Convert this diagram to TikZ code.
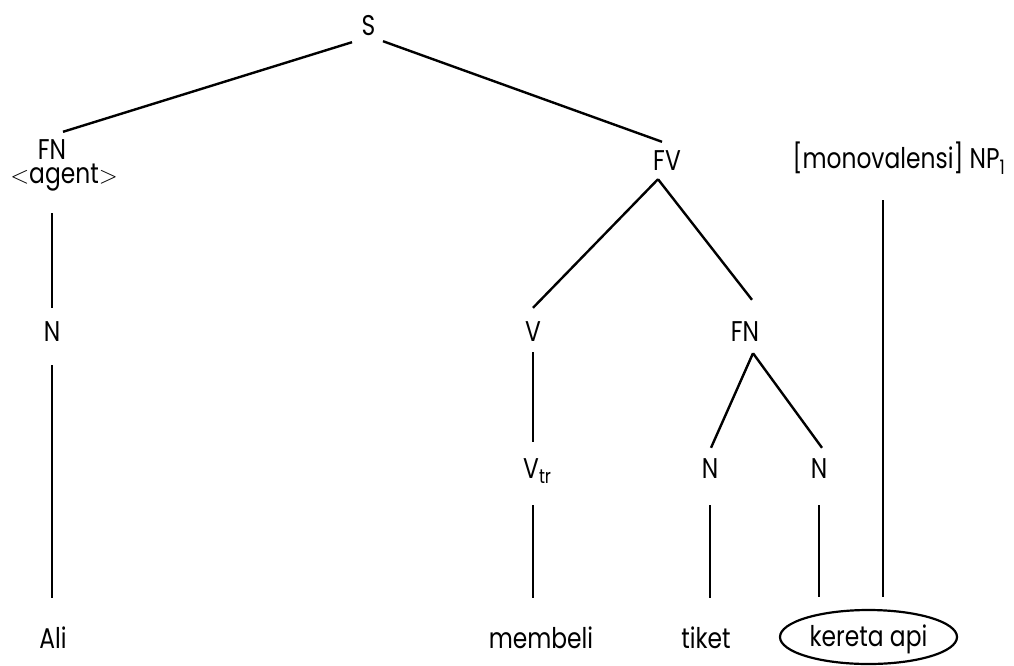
\documentclass[tikz,border=0pt]{standalone}
\usepackage{fontspec}
\setmainfont[FakeStretch=0.82]{Poppins}
\usepackage{tikz}
\usetikzlibrary{shapes.geometric}

\begin{document}
\begin{tikzpicture}[x=1pt, y=-1pt,
    cat/.style={font=\fontsize{28.5}{31}\selectfont, inner sep=0pt, text height=19pt, text depth=0pt},
    branch/.style={line width=2.4pt}]

    \useasboundingbox (0,0) rectangle (1014,665);

    % Root and first level
    \node (S) [cat] at (368.5,25.5) {S};
    \node (FNa) [cat] at (52,150) {FN};
    \node (agent) [cat] at (64,174) {$<$agent$>$};
    \node (FV) [cat] at (667,161) {FV};
    \node (NP) [cat] at (899,159) {[monovalensi] NP\textsubscript{1}};

    % Second and third level
    \node (N1) [cat] at (52,332) {N};
    \node (V) [cat] at (533,332) {V};
    \node (FNb) [cat] at (745,332) {FN};
    \node (Vtr) [cat, anchor=west] at (523,469) {V\textsubscript{tr}};
    \node (Nm) [cat] at (710,469) {N};
    \node (Nr) [cat] at (819,469) {N};

    % Words
    \node (Ali) [cat] at (53,639) {Ali};
    \node (membeli) [cat] at (541,639) {membeli};
    \node (tiket) [cat] at (706,639) {tiket};
    \node (kereta) [cat, draw, ellipse, line width=2.2pt, minimum width=177pt, minimum height=54pt] at (868.5,637) {kereta api};

    % Branches from S
    \draw[branch] ([xshift=-16.5pt,yshift=-7pt]S.south) -- ([xshift=11pt,yshift=8.5pt]FNa.north);
    \draw[branch] ([xshift=14.5pt,yshift=-6pt]S.south) -- ([xshift=-5pt,yshift=9.5pt]FV.north);

    % Subject branch
    \draw[branch, shorten <=29.5pt, shorten >=14.5pt] (FNa |- agent.south) -- (N1.north);
    \draw[branch, shorten <=23.5pt, shorten >=31.5pt] (N1.south) -- (N1 |- Ali.north);

    % Predicate branch
    \draw[branch] ([xshift=-9pt,yshift=-8.5pt]FV.south) -- ([yshift=14.5pt]V.north);
    \draw[branch] ([xshift=-9pt,yshift=-8.5pt]FV.south) -- ([xshift=7pt,yshift=22.5pt]FNb.north);
    \draw[branch, shorten <=10.5pt, shorten >=17.5pt] (V.south) -- (V |- Vtr.north);
    \draw[branch, shorten <=26.5pt, shorten >=31.5pt] (V |- Vtr.south) -- (V |- membeli.north);

    % Object noun phrase
    \draw[branch] ([xshift=8pt,yshift=-11.5pt]FNb.south) -- ([xshift=1pt,yshift=11.5pt]Nm.north);
    \draw[branch] ([xshift=8pt,yshift=-11.5pt]FNb.south) -- ([xshift=3pt,yshift=11.5pt]Nr.north);
    \draw[branch, shorten <=26.5pt, shorten >=31.5pt] (Nm.south) -- (Nm |- tiket.north);
    \draw[branch, shorten <=26.5pt, shorten >=12pt] (Nr.south) -- (Nr |- kereta.north);

    % Valency link
    \draw[branch, shorten <=31.5pt, shorten >=12pt] ([xshift=-16pt]NP.south) -- ([xshift=14.5pt]kereta.north);

\end{tikzpicture}
\end{document}
